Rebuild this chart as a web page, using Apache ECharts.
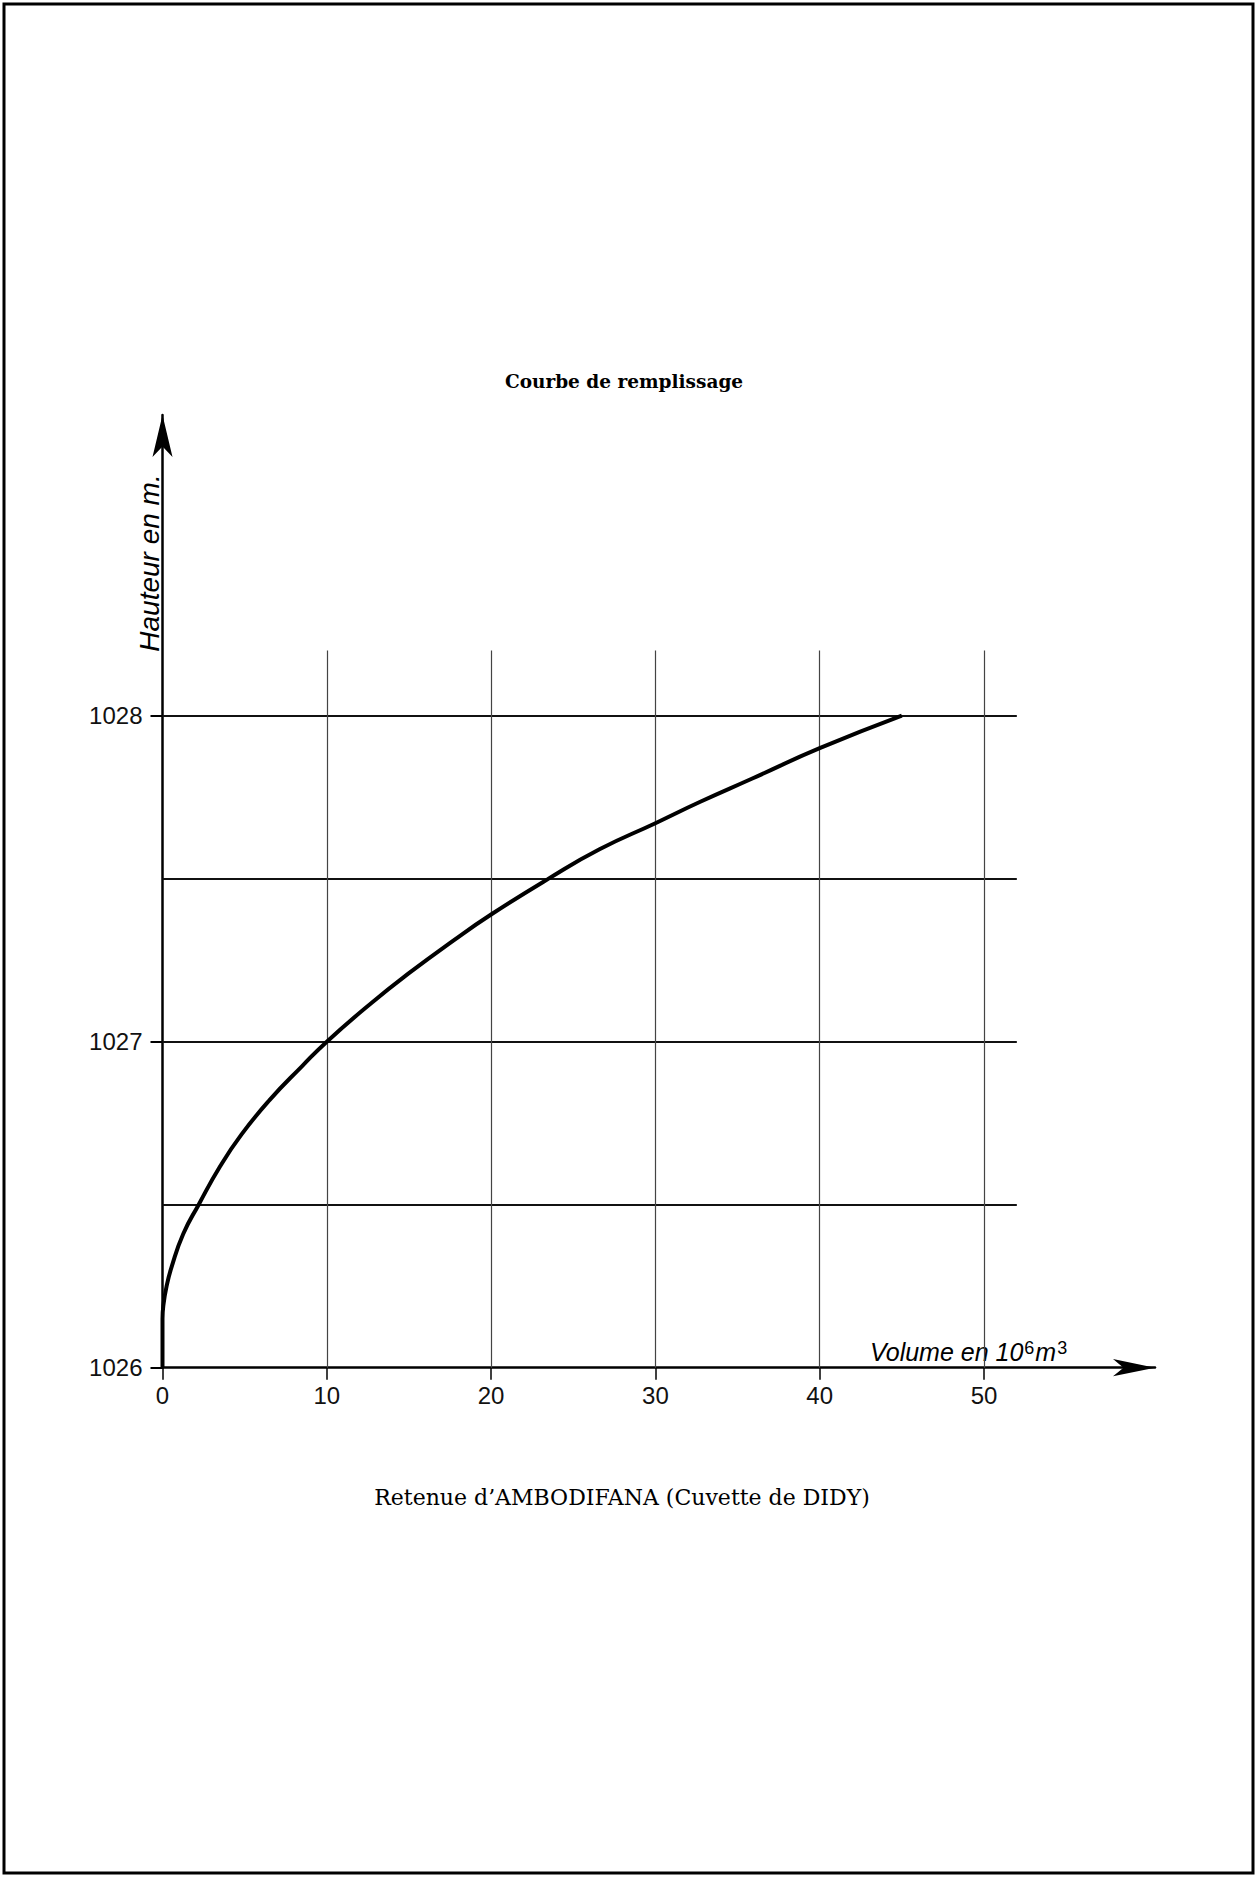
<!DOCTYPE html>
<html>
<head>
<meta charset="utf-8">
<script src="https://cdn.jsdelivr.net/npm/echarts@6/dist/echarts.min.js"></script>
<style>
html,body{margin:0;padding:0;background:#fff;}
#chart{width:1257px;height:1877px;}
</style>
</head>
<body>
<div id="chart"></div>
<script>
// ---- data ----
var volume  = [0, 0, 0.05, 0.25, 0.56, 1.26, 2.2, 3.5, 4.8, 6.5, 8.5, 10, 12.7, 15, 17.7, 20, 23.5, 26.6, 30, 32.7, 35.9, 40, 45];
var hauteur = [1026, 1026.15, 1026.19, 1026.25, 1026.31, 1026.41, 1026.5, 1026.617, 1026.715, 1026.82, 1026.925, 1027, 1027.118, 1027.21, 1027.31, 1027.39, 1027.5, 1027.59, 1027.67, 1027.735, 1027.807, 1027.9, 1028];

var xTicks = [0, 10, 20, 30, 40, 50];
var yTicks = [1026, 1027, 1028];
var hGrid  = [1026.5, 1027, 1027.5, 1028];
var vGrid  = [10, 20, 30, 40, 50];
var gridXEnd = 52;
var gridYTop = 1028.2;

var titleText   = 'Courbe de remplissage';
var captionText = 'Retenue d\u2019AMBODIFANA (Cuvette de DIDY)';
var yName = 'Hauteur en m.';

var chart = echarts.init(document.getElementById('chart'), null, {renderer: 'svg'});

var gridLines = [];
hGrid.forEach(function (h) {
  gridLines.push([{coord: [0, h], lineStyle: {color: '#111', width: 2.2}}, {coord: [gridXEnd, h]}]);
});
vGrid.forEach(function (v) {
  gridLines.push([{coord: [v, yTicks[0]], lineStyle: {color: '#444', width: 1.2}}, {coord: [v, gridYTop]}]);
});

var option = {
  animation: false,
  backgroundColor: '#fff',
  grid: {left: 162.5, top: 415, width: 992.5, height: 952.7, containLabel: false},
  xAxis: {
    type: 'value', min: 0, max: 60.41,
    splitLine: {show: false},
    axisLine: {show: true, lineStyle: {color: '#000', width: 2.5}, symbol: ['none', 'arrow'], symbolSize: [13, 42]},
    axisTick: {show: true, customValues: xTicks, length: 12, lineStyle: {color: '#000', width: 1.5}},
    axisLabel: {customValues: xTicks, margin: 16, color: '#111', fontSize: 24, fontFamily: 'Liberation Sans',
      formatter: function (v) { return String(v); }}
  },
  yAxis: {
    type: 'value', min: 1026, max: 1028.922,
    splitLine: {show: false},
    axisLine: {show: true, lineStyle: {color: '#000', width: 2.5}, symbol: ['none', 'arrow'], symbolSize: [15, 42]},
    axisTick: {show: true, customValues: yTicks, length: 12, lineStyle: {color: '#000', width: 2}},
    axisLabel: {customValues: yTicks, margin: 20, color: '#111', fontSize: 24, fontFamily: 'Liberation Sans',
      formatter: function (v) { return String(v); }}
  },
  series: [{
    type: 'line',
    data: volume.map(function (v, i) { return [v, hauteur[i]]; }),
    showSymbol: false,
    smooth: 0.5,
    lineStyle: {color: '#000', width: 4},
    z: 5,
    markLine: {
      silent: true,
      symbol: ['none', 'none'],
      label: {show: false},
      lineStyle: {type: 'solid'},
      data: gridLines,
      z: 1
    }
  }],
  graphic: [
    {type: 'rect', shape: {x: 4, y: 4, width: 1249, height: 1869}, style: {fill: 'none', stroke: '#000', lineWidth: 3}, silent: true},
    {type: 'text', x: 624, y: 381, style: {text: titleText, font: 'bold 18.5px "DejaVu Serif"', fill: '#000', align: 'center', verticalAlign: 'middle', textAlign: 'center', textVerticalAlign: 'middle'}},
    {type: 'text', x: 622, y: 1497, style: {text: captionText, font: '22px "DejaVu Serif"', fill: '#000', align: 'center', verticalAlign: 'middle', textAlign: 'center', textVerticalAlign: 'middle'}},
    {type: 'text', x: 149, y: 563, rotation: Math.PI / 2, style: {text: yName, font: 'italic 28px "Liberation Sans"', fill: '#000', align: 'center', verticalAlign: 'middle', textAlign: 'center', textVerticalAlign: 'middle'}},
    {type: 'text', x: 870, y: 1364, style: {
      text: '{m|Volume en 10}{s|6}{m|m}{s|3}',
      fill: '#000', align: 'left', verticalAlign: 'bottom', textAlign: 'left', textVerticalAlign: 'bottom',
      rich: {
        m: {fontFamily: 'Liberation Sans', fontStyle: 'italic', fontSize: 25, lineHeight: 25, verticalAlign: 'bottom', fill: '#000', color: '#000'},
        s: {fontFamily: 'Liberation Sans', fontSize: 18, lineHeight: 18, verticalAlign: 'top', padding: [0, 1, 12, 1], fill: '#000', color: '#000'}
      }
    }}
  ]
};
chart.setOption(option);
</script>
</body>
</html>
